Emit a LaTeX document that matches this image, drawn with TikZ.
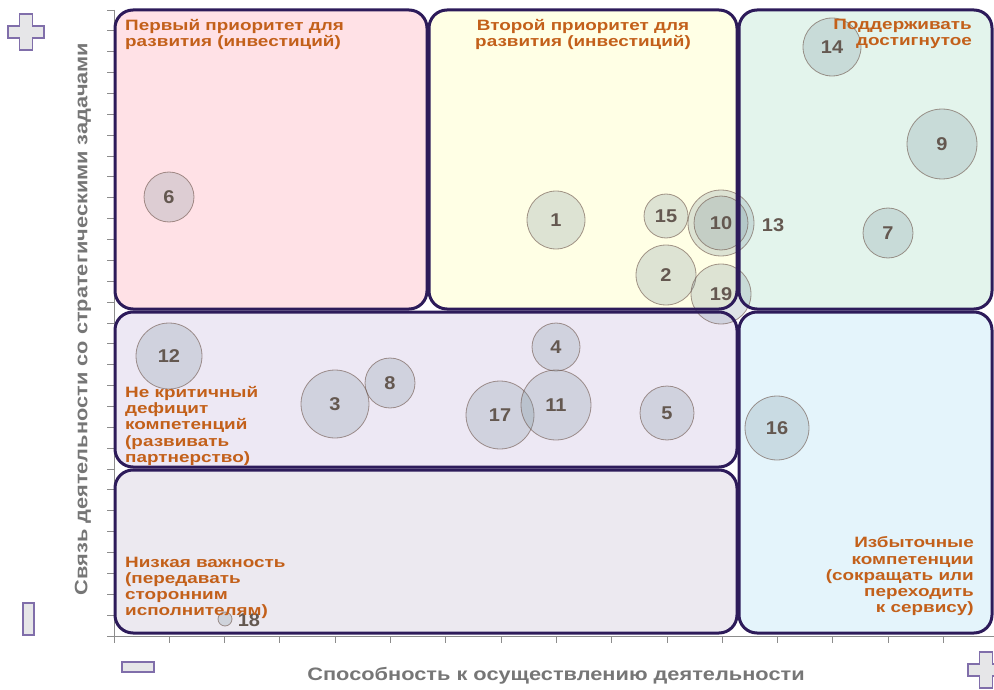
\documentclass[tikz,border=0pt]{standalone}
\usepackage{fontspec}
\setmainfont{Liberation Sans}
\newfontfamily\wideq[FakeStretch=1.26]{Liberation Sans}
\newfontfamily\widet[FakeStretch=1.21]{Liberation Sans}
\newfontfamily\widen[FakeStretch=1.08]{Liberation Sans}
\definecolor{qpink}{RGB}{255,225,230}
\definecolor{qyellow}{RGB}{255,255,229}
\definecolor{qgreen}{RGB}{227,244,236}
\definecolor{qband}{RGB}{237,232,244}
\definecolor{qlow}{RGB}{236,233,240}
\definecolor{qblue}{RGB}{228,244,251}
\definecolor{qborder}{RGB}{45,27,90}
\definecolor{qlabel}{RGB}{195,96,26}
\definecolor{axisgrey}{RGB}{140,140,140}
\definecolor{titlegrey}{RGB}{118,118,118}
\definecolor{bubfill}{RGB}{123,147,158}
\definecolor{bubline}{RGB}{110,85,75}
\definecolor{bubtext}{RGB}{100,88,80}
\definecolor{iconfill}{RGB}{230,230,232}
\definecolor{iconline}{RGB}{128,110,170}
\tikzset{
  quad/.style={rounded corners=18pt},
  qframe/.style={quad, draw=qborder, line width=3pt},
  bub/.style={circle, inner sep=0pt, fill=bubfill, fill opacity=0.25, text opacity=1,
    draw=bubline, draw opacity=0.6, line width=0.8pt, text=bubtext,
    font=\widen\fontsize{18.5}{18.5}\selectfont\bfseries},
  numlbl/.style={text=bubtext, font=\widen\fontsize{18.5}{18.5}\selectfont\bfseries, inner sep=0pt},
  qtext/.style={text=qlabel, font=\wideq\fontsize{15}{16.3}\selectfont\bfseries, inner sep=0pt},
  axtitle/.style={text=titlegrey, font=\widet\fontsize{18}{18}\selectfont\bfseries, inner sep=0pt},
  icon/.style={fill=iconfill, draw=iconline, line width=1.3pt},
  axline/.style={draw=axisgrey, line width=0.9pt}
}
\begin{document}
\begin{tikzpicture}[x=1pt,y=-1pt]
\useasboundingbox (0,0) rectangle (994,690);
% axes
\draw[axline] (114,10) -- (114,643);
\draw[axline] (107,636) -- (994,636);
\foreach \k in {0,...,30} {\draw[axline] (107,{10+\k*20.867}) -- (114,{10+\k*20.867});}
\foreach \k in {0,...,15} {\draw[axline] ({114+\k*55.3},636) -- ({114+\k*55.3},643);}
% quadrant fills
\fill[quad, qpink] (115,10) rectangle (427,309);
\fill[quad, qyellow] (429,10) rectangle (737,309);
\fill[quad, qgreen] (739,10) rectangle (992,309);
\fill[quad, qband] (115,312) rectangle (737,467);
\fill[quad, qlow] (115,470) rectangle (737,633);
\fill[quad, qblue] (739,312) rectangle (992,633);
% bubbles
\node[bub, minimum size=50pt] (n6) at (169,197) {6};
\node[bub, minimum size=58pt] (n14) at (832,47) {14};
\node[bub, minimum size=70pt] (n9) at (942,144) {9};
\node[bub, minimum size=58pt] (n1) at (556,220) {1};
\node[bub, minimum size=44pt] (n15) at (666,216) {15};
\node[bub, minimum size=66pt] (n13) at (721,223) {};
\node[bub, minimum size=54pt] (n10) at (721,223) {10};
\node[numlbl] (t13) at (773,225) {13};
\node[bub, minimum size=50pt] (n7) at (888,233) {7};
\node[bub, minimum size=60pt] (n2) at (666,275) {2};
\node[bub, minimum size=60pt] (n19) at (721,294) {19};
\node[bub, minimum size=66pt] (n12) at (169,356) {12};
\node[bub, minimum size=48pt] (n4) at (556,347) {4};
\node[bub, minimum size=50pt] (n8) at (390,383) {8};
\node[bub, minimum size=68pt] (n3) at (335,404) {3};
\node[bub, minimum size=68pt] (n17) at (500,415) {17};
\node[bub, minimum size=70pt] (n11) at (556,405) {11};
\node[bub, minimum size=54pt] (n5) at (667,413) {5};
\node[bub, minimum size=64pt] (n16) at (777,428) {16};
\node[bub, minimum size=14pt] (n18) at (225,619) {};
\node[numlbl] (t18) at (249,620) {18};
% quadrant frames
\draw[qframe] (115,10) rectangle (427,309);
\draw[qframe] (429,10) rectangle (737,309);
\draw[qframe] (739,10) rectangle (992,309);
\draw[qframe] (115,312) rectangle (737,467);
\draw[qframe] (115,470) rectangle (737,633);
\draw[qframe] (739,312) rectangle (992,633);
% quadrant labels
\node[qtext, anchor=north west, align=left] (l1) at (125,19) {Первый приоритет для\\развития (инвестиций)};
\node[qtext, anchor=north, align=center] (l2) at (583,19) {Второй приоритет для\\развития (инвестиций)};
\node[qtext, anchor=north east, align=right] (l3) at (972,19) {Поддерживать\\достигнутое};
\node[qtext, anchor=north west, align=left] (l4) at (125,386) {Не критичный\\дефицит\\компетенций\\(развивать\\партнерство)};
\node[qtext, anchor=north west, align=left] (l5) at (125,556.5) {Низкая важность\\(передавать\\сторонним\\исполнителям)};
\node[qtext, anchor=north east, align=right] (l6) at (974,536.5) {Избыточные\\компетенции\\(сокращать или\ \\переходить\\к сервису)};
% axis titles
\node[axtitle] (xt) at (556,676) {Способность к осуществлению деятельности};
\node[axtitle, rotate=90] (yt) at (83,319) {Связь деятельности со стратегическими задачами};
% icons
\draw[icon] (19.5,14) -- (32.5,14) -- (32.5,26) -- (44,26) -- (44,38) -- (32.5,38) -- (32.5,50) -- (19.5,50) -- (19.5,38) -- (8,38) -- (8,26) -- (19.5,26) -- cycle;
\draw[icon] (979.5,652) -- (992.5,652) -- (992.5,664) -- (1004,664) -- (1004,676) -- (992.5,676) -- (992.5,688) -- (979.5,688) -- (979.5,676) -- (968,676) -- (968,664) -- (979.5,664) -- cycle;
\draw[icon] (23,603) rectangle (34,635);
\draw[icon] (122,662) rectangle (154,672);
\end{tikzpicture}
\end{document}
